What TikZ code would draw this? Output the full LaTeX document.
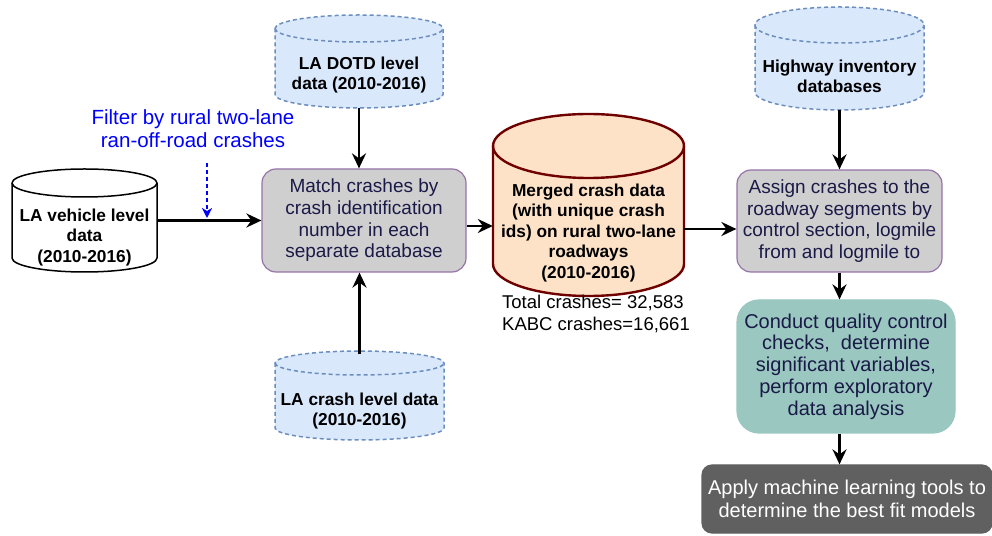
\documentclass[tikz,border=0pt]{standalone}
\usepackage{fontspec}
\setmainfont{Liberation Sans}
\usetikzlibrary{arrows.meta,backgrounds}
\definecolor{dbfill}{HTML}{DAE8FC}
\definecolor{dbborder}{HTML}{6C8EBF}
\definecolor{boxfill}{HTML}{CFCFCF}
\definecolor{boxborder}{HTML}{9673A6}
\definecolor{navytext}{HTML}{1A1A48}
\definecolor{mergedfill}{HTML}{FDE2C8}
\definecolor{mergedborder}{HTML}{6F0000}
\definecolor{tealfill}{HTML}{9AC7BF}
\definecolor{darkfill}{HTML}{606060}
\newcommand\cylpath[6]{%
  \path[#6] (#1,#3+#5) -- (#1,#4+#5)
    arc[start angle=180,end angle=360,x radius={(#2-#1)/2},y radius=#5]
    -- (#2,#3+#5)
    arc[start angle=0,end angle=180,x radius={(#2-#1)/2},y radius=#5] -- cycle;
  \path[#6,fill=none] (#1,#3+#5)
    arc[start angle=180,end angle=360,x radius={(#2-#1)/2},y radius=#5];
}
\tikzset{
  cyltext/.style={inner sep=0pt, align=center, text=black,
    font=\bfseries\fontsize{17.3}{20.5}\selectfont},
  procbox/.style={draw=boxborder, fill=boxfill, rounded corners=14pt,
    line width=1.2pt, text=navytext, align=center, inner sep=0pt,
    font=\fontsize{19}{21.7}\selectfont},
  arr/.style={line width=2.8pt, -{Stealth[length=15pt,width=14pt,inset=5pt]}},
  dbline/.style={draw=dbborder, fill=dbfill, dash pattern=on 4pt off 3pt, line width=1.5pt},
}
\begin{document}
\begin{tikzpicture}[x=1pt,y=1pt]
\useasboundingbox (0,0) rectangle (992,535);

% cylinder text areas
\node[cyltext, minimum width=145pt, minimum height=75pt] (vehicle) at (84.5,297.5)
  {LA vehicle level\\data\\(2010-2016)};
\node[cyltext, minimum width=168pt, minimum height=66pt] (dotd) at (359,460)
  {LA DOTD level\\data (2010-2016)};
\node[cyltext, minimum width=169pt, minimum height=67pt] (highway) at (839.5,458.5)
  {Highway inventory\\databases};
\node[cyltext, minimum width=169pt, minimum height=65pt] (crash) at (359.5,124)
  {LA crash level data\\(2010-2016)};
\node[cyltext, minimum width=191pt, minimum height=118pt] (merged) at (588.5,302)
  {Merged crash data\\(with unique crash\\ids) on rural two-lane\\roadways\\(2010-2016)};

% process boxes
\node[procbox, minimum width=204pt, minimum height=103pt] (match) at (364,314.5)
  {Match crashes by\\crash identification\\number in each\\separate database};
\node[procbox, minimum width=205pt, minimum height=102pt] (assign) at (839.5,314)
  {Assign crashes to the\\roadway segments by\\control section, logmile\\from and logmile to};
\node[procbox, draw=tealfill, fill=tealfill, rounded corners=22pt,
  minimum width=218pt, minimum height=133pt,
  font=\fontsize{20}{21.7}\selectfont] (conduct) at (846,168.5)
  {Conduct quality control\\checks,\ \ determine\\significant variables,\\perform exploratory\\data analysis};
\node[procbox, draw=darkfill, fill=darkfill, rounded corners=10pt, text=white,
  minimum width=290pt, minimum height=68pt,
  font=\fontsize{20}{23}\selectfont] (apply) at (847,36)
  {Apply machine learning tools to\\determine the best fit models};

% free texts
\node[inner sep=0pt, align=center, text=blue, font=\fontsize{20.5}{23}\selectfont]
  (filter) at (193,406.5) {Filter by rural two-lane\\ran-off-road crashes};
\node[inner sep=0pt, align=left, text=black, font=\fontsize{18.5}{21.5}\selectfont]
  (totals) at (596,221) {Total crashes= 32,583\\KABC crashes=16,661};

% cylinders drawn behind their texts
\begin{pgfonlayer}{background}
  \cylpath{12}{157}{338}{263}{14}{draw=black, fill=white, line width=1.5pt}
  \cylpath{275}{443}{493}{427}{13.5}{dbline}
  \cylpath{755}{924}{492}{425}{18}{dbline}
  \cylpath{275}{444}{160}{95}{12}{dbline}
  \cylpath{493}{684}{357}{239}{32}{draw=mergedborder, fill=mergedfill, line width=2.4pt}
\end{pgfonlayer}

% connectors
\coordinate (crashtop) at ([yshift=24pt]crash.north);
\coordinate (mout) at ([yshift=-5.5pt]match.east);
\coordinate (ain) at ([yshift=-8pt]assign.west);
\coordinate (vout) at (157,314.5);
\coordinate (fstart) at (207,372);
\coordinate (fend) at (207,317);

\draw[arr] (vout) -- (vout -| match.west);
\draw[arr] (dotd.south) -- (dotd.south |- match.north);
\draw[arr] (crashtop) -- (crashtop |- match.south);
\draw[arr] (mout) -- (mout -| merged.west);
\draw[arr] (merged.east |- ain) -- (ain);
\draw[arr] (highway.south) -- (highway.south |- assign.north);
\draw[arr] (assign.south) -- (assign.south |- conduct.north);
\draw[arr] (assign.south |- conduct.south) -- (assign.south |- apply.north);
\draw[blue, line width=1.5pt, dash pattern=on 4pt off 3pt,
  -{Stealth[length=10pt,width=10pt,inset=3pt]}] (fstart) -- (fend);
\end{tikzpicture}
\end{document}
